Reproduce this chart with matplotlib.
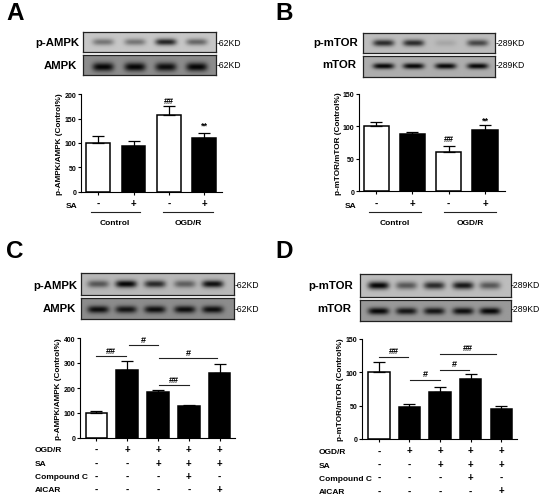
import numpy as np
import matplotlib
matplotlib.use("Agg")
import matplotlib.pyplot as plt

plt.rcParams['font.family'] = ['Liberation Sans', 'DejaVu Sans']

W, H = 550, 502

# bar heights and upper error caps
a_vals = [100, 94, 158, 110]
a_tops = [115, 105, 175, 121]
b_vals = [100, 88, 60, 94]
b_tops = [107, 91, 70, 102]
c_vals = [101, 273, 185, 129, 259]
c_tops = [108, 310, 192, 134, 298]
d_vals = [100, 48, 71, 90, 45]
d_tops = [116, 53, 78, 97, 50]

a_white = [True, False, True, False]
c_white = [True, False, False, False, False]

a_signs = ['-', '+', '-', '+']
ogd_signs = ['-', '+', '+', '+', '+']
sa_signs = ['-', '-', '+', '+', '+']
cc_signs = ['-', '-', '-', '+', '-']
aicar_signs = ['-', '-', '-', '-', '+']

# significance marks: x start, x end, y, label
c_brackets = [(1.0, 1.97, 328, '##'), (2.05, 3.0, 371, '#'),
              (3.04, 4.91, 319, '#'), (3.04, 4.0, 213, '##')]
d_brackets = [(1.0, 1.96, 123, '##'), (2.03, 3.0, 89, '#'),
              (3.0, 3.93, 104, '#'), (3.0, 4.84, 128, '##')]

# band darkness per lane, for the western blot strips
a_p_bands = [0.42, 0.42, 0.85, 0.5]
a_t_bands = [1.0, 1.0, 0.95, 1.0]
b_p_bands = [0.8, 0.8, 0.12, 0.65]
b_t_bands = [1.0, 1.0, 1.0, 1.0]
c_p_bands = [0.55, 1.0, 0.8, 0.5, 0.95]
c_t_bands = [0.95, 0.9, 0.95, 0.95, 0.95]
d_p_bands = [1.0, 0.55, 0.8, 0.9, 0.55]
d_t_bands = [1.0, 0.9, 0.9, 0.95, 1.0]


def px_axes(fig, left, top, right, bottom):
    return fig.add_axes([left / W, 1 - bottom / H, (right - left) / W, (bottom - top) / H])


def tx(fig, x, y, s, **kw):
    kw.setdefault('ha', 'center')
    kw.setdefault('va', 'center')
    fig.text(x / W, 1 - y / H, s, **kw)


def blot(fig, rect, lanes, bands, yc=0.5, bg=0.78, bw=0.08, bh=0.17):
    left, top, right, bottom = rect
    ax = px_axes(fig, left, top, right, bottom)
    xx, yy = np.meshgrid(np.linspace(0, 1, 200), np.linspace(0, 1, 40))
    img = np.full(xx.shape, bg)
    for lane, b in zip(lanes, bands):
        cx = (lane - left) / (right - left)
        blob = np.exp(-np.abs((xx - cx) / bw) ** 4 - ((yy - yc) / bh) ** 2)
        img -= b * (bg - 0.02) * blob
    ax.imshow(np.clip(img, 0, 1), cmap='gray', vmin=0, vmax=1, aspect='auto',
              interpolation='bilinear', extent=(0, 1, 1, 0))
    ax.set_xticks([])
    ax.set_yticks([])
    for s in ax.spines.values():
        s.set_linewidth(0.9)
        s.set_color('#222222')


def bars(fig, rect, vals, tops, whites, ymax, yticks, ylabel, width, xlim, ylab_x, capsize=4.5):
    ax = px_axes(fig, *rect)
    xs = np.arange(1, len(vals) + 1)
    for x, v, t, w in zip(xs, vals, tops, whites):
        ax.bar(x, v, width=width, color='white' if w else 'black', edgecolor='black',
               linewidth=1.1, zorder=2)
        ax.errorbar(x, v, yerr=[[0], [t - v]], color='black', elinewidth=0.9, capsize=capsize,
                    capthick=0.9, zorder=3)
    ax.set_xlim(*xlim)
    ax.set_ylim(0, ymax)
    ax.set_xticks(xs)
    ax.set_xticklabels([])
    ax.set_yticks(yticks)
    ax.tick_params(axis='both', length=2.5, width=0.8, pad=1, labelsize=5)
    for lab in ax.get_yticklabels():
        lab.set_fontweight('bold')
    ax.spines['top'].set_visible(False)
    ax.spines['right'].set_visible(False)
    ax.spines['left'].set_linewidth(0.8)
    ax.spines['bottom'].set_linewidth(0.8)
    ax.patch.set_alpha(0)
    tx(fig, ylab_x, (rect[1] + rect[3]) / 2, ylabel, rotation=90, fontsize=5.9, fontweight='bold')
    return ax


def brackets(ax, items, off):
    for x0, x1, y, s in items:
        ax.plot([x0, x1], [y, y], color='#222222', lw=0.8, clip_on=False, zorder=4)
        ax.text((x0 + x1) / 2, y + off, s, ha='center', va='center', fontsize=6.5,
                fontweight='bold', clip_on=False)


def sign_row(fig, ax, y, signs):
    for i, s in enumerate(signs):
        xp = ax.transData.transform((i + 1, 0))[0]
        tx(fig, xp, y, s, fontsize=7, fontweight='bold')


fig = plt.figure(figsize=(W / 100, H / 100), dpi=100, facecolor='white')

# panel letters
tx(fig, 15, 13, 'A', fontsize=17.5, fontweight='bold')
tx(fig, 284, 13, 'B', fontsize=17.5, fontweight='bold')
tx(fig, 15, 251, 'C', fontsize=17.5, fontweight='bold')
tx(fig, 284, 251, 'D', fontsize=17.5, fontweight='bold')

# A
blot(fig, (83, 33, 216, 53), [103, 135, 166, 197], a_p_bands, yc=0.5)
blot(fig, (83, 56, 216, 76), [103, 135, 166, 197], a_t_bands, yc=0.6, bg=0.55, bh=0.22)
tx(fig, 79, 43, 'p-AMPK', ha='right', fontsize=8.2, fontweight='bold')
tx(fig, 77, 66, 'AMPK', ha='right', fontsize=8.2, fontweight='bold')
tx(fig, 217, 43, '-62KD', ha='left', fontsize=6.2)
tx(fig, 217, 66, '-62KD', ha='left', fontsize=6.2)
ax_a = bars(fig, (81, 95.3, 222, 192.7), a_vals, a_tops, a_white, 200, [0, 50, 100, 150, 200],
            'p-AMPK/AMPK (Control%)', 0.67, (0.51, 4.51), 59.5)
ax_a.text(3, 188, '##', ha='center', va='center', fontsize=6.5, fontweight='bold')
ax_a.text(4, 136, '**', ha='center', va='center', fontsize=6.5, fontweight='bold')
sign_row(fig, ax_a, 204, a_signs)
tx(fig, 72, 206, 'SA', fontsize=6, fontweight='bold')
fig.add_artist(plt.Line2D([90.7 / W, 140 / W], [1 - 213 / H] * 2, color='#222222', lw=0.8))
fig.add_artist(plt.Line2D([162.7 / W, 212.7 / W], [1 - 213 / H] * 2, color='#222222', lw=0.8))
tx(fig, 115, 223.5, 'Control', fontsize=6, fontweight='bold')
tx(fig, 188, 223.5, 'OGD/R', fontsize=6, fontweight='bold')

# B
blot(fig, (362.7, 34, 495, 54), [383, 413, 445, 477], b_p_bands, yc=0.5, bg=0.74)
blot(fig, (362.7, 57, 495, 78), [383, 413, 445, 477], b_t_bands, yc=0.48, bg=0.68, bh=0.14)
tx(fig, 358, 43, 'p-mTOR', ha='right', fontsize=8.2, fontweight='bold')
tx(fig, 356, 65.5, 'mTOR', ha='right', fontsize=8.2, fontweight='bold')
tx(fig, 496, 43, '-289KD', ha='left', fontsize=6.2)
tx(fig, 496, 66, '-289KD', ha='left', fontsize=6.2)
ax_b = bars(fig, (359, 94.7, 505, 192.3), b_vals, b_tops, a_white, 150, [0, 50, 100, 150],
            'p-mTOR/mTOR (Control%)', 0.69, (0.53, 4.55), 338.5)
ax_b.text(3, 81, '##', ha='center', va='center', fontsize=6.5, fontweight='bold')
ax_b.text(4, 109, '**', ha='center', va='center', fontsize=6.5, fontweight='bold')
sign_row(fig, ax_b, 204, a_signs)
tx(fig, 350.5, 206, 'SA', fontsize=6, fontweight='bold')
fig.add_artist(plt.Line2D([369.3 / W, 421 / W], [1 - 213 / H] * 2, color='#222222', lw=0.8))
fig.add_artist(plt.Line2D([444 / W, 496 / W], [1 - 213 / H] * 2, color='#222222', lw=0.8))
tx(fig, 394.5, 223.5, 'Control', fontsize=6, fontweight='bold')
tx(fig, 470, 223.5, 'OGD/R', fontsize=6, fontweight='bold')

# C
blot(fig, (81, 274, 234, 296), [98, 126, 155, 185, 213], c_p_bands, yc=0.5, bg=0.72, bw=0.07)
blot(fig, (81, 299, 234, 320), [98, 126, 155, 185, 213], c_t_bands, yc=0.57, bg=0.55, bw=0.07)
tx(fig, 77, 286, 'p-AMPK', ha='right', fontsize=8.2, fontweight='bold')
tx(fig, 76, 309, 'AMPK', ha='right', fontsize=8.2, fontweight='bold')
tx(fig, 235, 286, '-62KD', ha='left', fontsize=6.2)
tx(fig, 235, 309.5, '-62KD', ha='left', fontsize=6.2)
ax_c = bars(fig, (80, 339, 235, 439), c_vals, c_tops, c_white, 400, [0, 100, 200, 300, 400],
            'p-AMPK/AMPK (Control%)', 0.7, (0.47, 5.5), 59)
brackets(ax_c, c_brackets, 22)
sign_rows = [(451, 'OGD/R', ogd_signs), (465, 'SA', sa_signs),
             (478, 'Compound C', cc_signs), (491, 'AICAR', aicar_signs)]
for y, name, signs in sign_rows:
    tx(fig, 35, y, name, ha='left', fontsize=6, fontweight='bold')
    sign_row(fig, ax_c, y - 1, signs)

# D
blot(fig, (359.7, 275, 510.7, 298), [378, 406, 434, 463, 490], d_p_bands, yc=0.5, bg=0.74, bw=0.07)
blot(fig, (359.7, 301, 510.7, 322), [378, 406, 434, 463, 490], d_t_bands, yc=0.53, bg=0.6, bw=0.07)
tx(fig, 353, 286, 'p-mTOR', ha='right', fontsize=8.2, fontweight='bold')
tx(fig, 351, 309, 'mTOR', ha='right', fontsize=8.2, fontweight='bold')
tx(fig, 511, 286, '-289KD', ha='left', fontsize=6.2)
tx(fig, 511, 309, '-289KD', ha='left', fontsize=6.2)
ax_d = bars(fig, (362, 340, 516.7, 440), d_vals, d_tops, c_white, 150, [0, 50, 100, 150],
            'p-mTOR/mTOR (Control%)', 0.7, (0.45, 5.5), 341)
brackets(ax_d, d_brackets, 9)
sign_rows = [(453, 'OGD/R', ogd_signs), (466.5, 'SA', sa_signs),
             (479.5, 'Compound C', cc_signs), (493, 'AICAR', aicar_signs)]
for y, name, signs in sign_rows:
    tx(fig, 319, y, name, ha='left', fontsize=6, fontweight='bold')
    sign_row(fig, ax_d, y - 1.5, signs)

fig.savefig('out.png', dpi=100, facecolor='white')
